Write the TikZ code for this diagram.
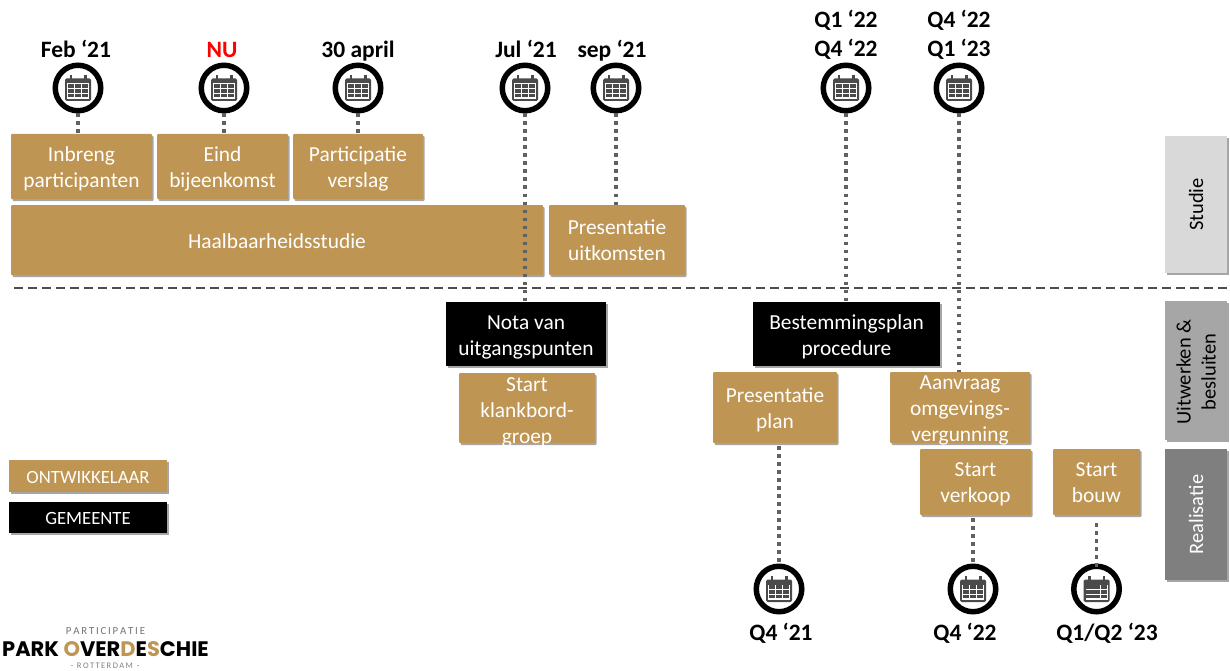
\documentclass[tikz,border=0pt]{standalone}
\usepackage{fontspec}
\setmainfont{Carlito}
\newfontfamily\logofont{Poppins}
\usetikzlibrary{shadows}
\definecolor{gold}{HTML}{BE9553}
\definecolor{sideA}{HTML}{D9D9D9}
\definecolor{sideB}{HTML}{A6A6A6}
\definecolor{sideC}{HTML}{7F7F7F}
\definecolor{icon}{HTML}{4A4A4A}
\def\bxdn{0pt}
\tikzset{
 x=1pt,y=-1pt,
 shad/.style={drop shadow={shadow xshift=1.5pt,shadow yshift=-2pt,opacity=.35,fill=black}},
 down/.code={\def\bxdn{#1}},
 gbox/.style={fill=gold,text=white,font=\fontsize{21.4}{26}\selectfont,shad,inner sep=0pt,rounded corners=1pt,down=3pt},
 kbox/.style={fill=black,text=white,font=\fontsize{21.4}{26}\selectfont,shad,inner sep=0pt,down=3pt},
 lgbox/.style={font=\fontsize{18.7}{22}\selectfont,text=white,inner sep=0pt,shad,down=2.5pt},
 sidebox/.style={inner sep=0pt,shad},
 sidetxt/.style={rotate=90,align=center,font=\fontsize{20.5}{25}\selectfont,inner sep=0pt},
 datelab/.style={font=\bfseries\fontsize{23.5}{29.5}\selectfont,align=center,inner sep=0pt},
 oneline/.style={text height=16pt,text depth=5pt},
 ring/.style={circle,draw=black,line width=5.5pt,fill=white,minimum size=45.5pt,inner sep=0pt,drop shadow={shadow xshift=1.5pt,shadow yshift=-1.5pt,opacity=.35,fill=black}},
 dots/.style={line width=3.3pt,draw=black!62,dash pattern=on 3.3pt off 4.7pt},
 sep/.style={line width=1.1pt,draw=black!70,dash pattern=on 9pt off 5pt},
}
% name, x, y (pixels)
\newcommand{\calring}[3]{%
 \node[ring] (#1) at (#2,#3) {};
 \begin{scope}[shift={(#2,#3)}]
  \fill[icon,rounded corners=1.5pt] (-13,-9.5) rectangle (13,13);
  \fill[white] (-11,-4.5) rectangle (11,10.7);
  \foreach \yy in {-3.6,1,5.6}{\foreach \xx in {-10.2,-3.1,4}{\fill[icon] (\xx,\yy) rectangle ++(6.2,3.7);}}
  \fill[icon] (-8.5,-13) rectangle (-6,-7);
  \fill[icon] (6,-13) rectangle (8.5,-7);
 \end{scope}}
\newcommand{\bx}[7]{\node[#2,minimum width=#5 pt-#3 pt,minimum height=#6 pt-#4 pt] (#1) at ({(#3+#5)/2},{(#4+#6)/2}) {\raisebox{\dimexpr -\bxdn-.25em\relax}[0pt][0pt]{\begin{tabular}{@{}c@{}}#7\end{tabular}}};}
\begin{document}
\begin{tikzpicture}
\useasboundingbox (0,0) rectangle (1230,671);
% rows of boxes
\bx{inbreng}{gbox}{11}{134}{152}{199}{Inbreng\\participanten}
\bx{eind}{gbox}{157}{134}{288}{199}{Eind\\bijeenkomst}
\bx{verslag}{gbox}{293}{134}{423}{199}{Participatie\\verslag}
\bx{haalbaar}{gbox}{11}{205}{543}{275}{Haalbaarheidsstudie}
\bx{uitkomst}{gbox,down=2pt}{549}{205}{685}{275}{Presentatie\\uitkomsten}
\bx{nota}{kbox}{446}{302}{606}{366}{Nota van\\uitgangspunten}
\bx{klank}{gbox,down=4.5pt}{459}{373}{595}{443}{Start\\klankbord-\\groep}
\bx{bplan}{kbox}{753}{302}{940}{366}{Bestemmingsplan\\procedure}
\bx{pplan}{gbox}{713}{372}{837}{443}{Presentatie\\plan}
\bx{aanvraag}{gbox}{890}{372}{1030}{443}{Aanvraag\\omgevings-\\vergunning}
\bx{verkoop}{gbox,down=2pt}{920}{449}{1031}{515}{Start\\verkoop}
\bx{bouw}{gbox,down=2pt}{1053}{449}{1140}{515}{Start\\bouw}
% legend
\bx{lego}{lgbox,fill=gold}{9}{460}{167}{492}{ONTWIKKELAAR}
\bx{legg}{lgbox,fill=black}{9}{502}{167}{533}{GEMEENTE}
% phases
\node[sidebox,fill=sideA,minimum width=62pt,minimum height=137pt] (studie) at (1196,204.5) {};
\node[sidebox,fill=sideB,minimum width=62pt,minimum height=139pt] (uitw) at (1196,370.5) {};
\node[sidebox,fill=sideC,minimum width=62pt,minimum height=131pt] (real) at (1196,514.5) {};
\node[sidetxt] (studietxt) at (studie.center) {Studie};
\node[sidetxt,xshift=-1.5pt] (uitwtxt) at (uitw.center) {Uitwerken \&\\besluiten};
\node[sidetxt,text=white] (realtxt) at (real.center) {Realisatie};
% separator
\coordinate (sepa) at (14,288);
\coordinate (sepb) at (1230,288);
\draw[sep] (sepa) -- (sepb);
% calendars
\calring{c1}{78}{88}
\calring{c2}{224}{88}
\calring{c3}{358}{88}
\calring{c4}{525}{88}
\calring{c5}{616}{88}
\calring{c6}{846}{88}
\calring{c7}{959}{88}
\calring{c8}{779}{589}
\calring{c9}{973}{589}
\calring{c10}{1096.5}{589}
% connectors
\draw[dots] (c1.south) -- (inbreng.north -| c1.south);
\draw[dots] (c2.south) -- (eind.north -| c2.south);
\draw[dots] (c3.south) -- (verslag.north -| c3.south);
\draw[dots] (c4.south) -- (nota.north -| c4.south);
\draw[dots] (c5.south) -- (uitkomst.north -| c5.south);
\draw[dots] (c6.south) -- (bplan.north -| c6.south);
\draw[dots] (c7.south) -- (aanvraag.north -| c7.south);
\draw[dots] ([yshift=-3pt]pplan.south -| c8.north) -- (c8.north);
\draw[dots] ([yshift=-3pt]verkoop.south -| c9.north) -- (c9.north);
\draw[dots] ([yshift=-8pt]bouw.south -| c10.north) -- ([yshift=-7pt]c10.north);
% date labels
\node[datelab,oneline] (d1) at (76,52) {Feb ‘21};
\node[datelab,oneline,text=red] (d2) at (222,52) {NU};
\node[datelab,oneline] (d3) at (358,52) {30 april};
\node[datelab,oneline] (d4) at (526,52) {Jul ‘21};
\node[datelab,oneline] (d5) at (612,52) {sep ‘21};
\node[datelab] (d6) at (846,35) {Q1 ‘22\\Q4 ‘22};
\node[datelab] (d7) at (959,35) {Q4 ‘22\\Q1 ‘23};
\node[datelab,oneline] (d8) at (781,635) {Q4 ‘21};
\node[datelab,oneline] (d9) at (965,635) {Q4 ‘22};
\node[datelab,oneline] (d10) at (1107,635) {Q1/Q2 ‘23};
% logo
\node[inner sep=0pt,text=black!55,font=\fontsize{10.8}{11}\selectfont] (l1) at (105.5,631) {P\,A\,R\,T\,I\,C\,I\,P\,A\,T\,I\,E};
\node[inner sep=0pt,font=\logofont\bfseries\fontsize{21}{24}\selectfont] (l2) at (105.5,649) {PARK \textcolor{gold}{O}VER\textcolor{gold}{D}E\textcolor{gold}{S}CHIE};
\node[inner sep=0pt,text=black!50,font=\fontsize{8.5}{9}\selectfont] (l3) at (105,666) {-\ \ R\,O\,T\,T\,E\,R\,D\,A\,M\ \ -};
\end{tikzpicture}
\end{document}
